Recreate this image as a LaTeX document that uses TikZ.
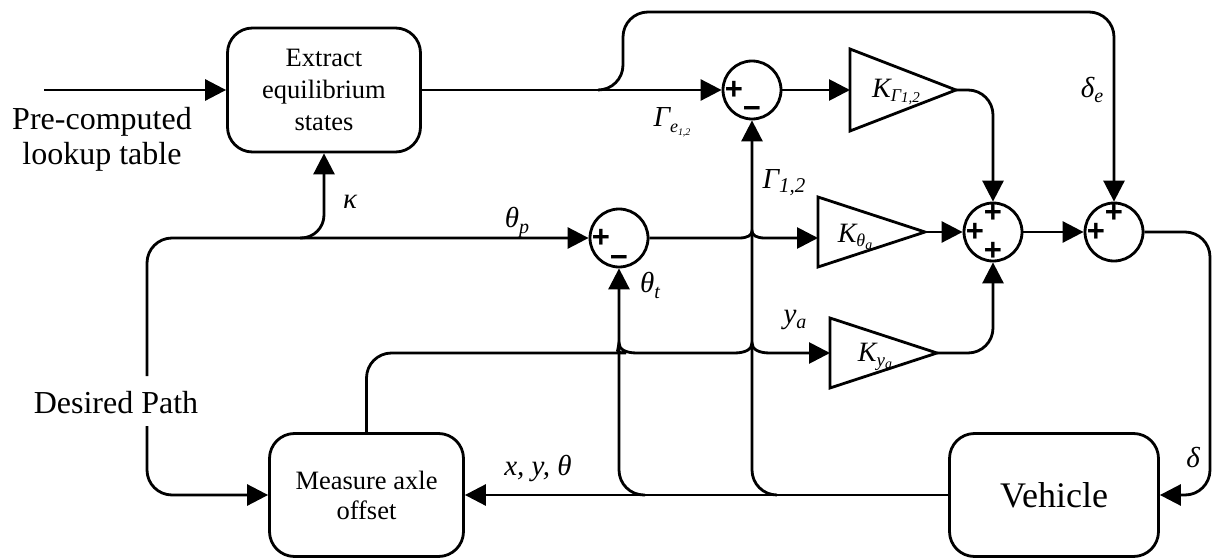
\documentclass[tikz,border=0pt]{standalone}
\usepackage{fontspec}
\setmainfont{Liberation Serif}
\newfontfamily\signfont{Liberation Sans}
\usetikzlibrary{arrows.meta}
\newcommand\mysub[3]{\raisebox{-#2}{\fontsize{#1}{#1}\selectfont\textit{#3}}}
\begin{document}
\begin{tikzpicture}[x=1pt,y=-1pt, line width=2.8pt,
  arr/.style={-{Triangle[length=21pt,width=21pt]}},
  box/.style={draw, rounded corners=25pt, align=center, inner sep=0pt},
  sumc/.style={draw, circle, minimum size=58pt, inner sep=0pt},
  sgn/.style={font=\signfont\bfseries\fontsize{31}{31}\selectfont, inner sep=0pt},
  lab/.style={font=\fontsize{29}{29}\selectfont\itshape, inner sep=0pt},
  klab/.style={font=\fontsize{28}{28}\selectfont\itshape, inner sep=0pt},
  big/.style={font=\fontsize{32}{35}\selectfont, align=center, inner sep=0pt},
  tri/.style={line join=miter}]
\useasboundingbox (0,0) rectangle (1213,559);

% blocks
\node[box, minimum width=193pt, minimum height=124pt, font=\fontsize{26.5}{32}\selectfont] (ext) at (324,90) {Extract\\equilibrium\\states};
\node[box, minimum width=194pt, minimum height=123pt, font=\fontsize{26.5}{30}\selectfont] (meas) at (366.5,495) {Measure axle\\offset};
\node[box, minimum width=209pt, minimum height=123pt, font=\fontsize{36}{40}\selectfont] (veh) at (1054,495) {Vehicle};

% summing junctions
\node[sumc] (gsum) at (752,90) {};
\node[sumc] (tsum) at (619,238) {};
\node[sumc] (msum) at (993,232) {};
\node[sumc] (fsum) at (1114,232) {};

\node[sgn] (gp) at (734,90) {+};
\node[sgn] (gm) at (752,112) {−};
\node[sgn] (tp) at (601,238) {+};
\node[sgn] (tm) at (619,261) {−};
\node[sgn] (mp1) at (993,213) {+};
\node[sgn] (mp2) at (975,232) {+};
\node[sgn] (mp3) at (993,251) {+};
\node[sgn] (fp1) at (1114,213) {+};
\node[sgn] (fp2) at (1096,232) {+};

% gains
\draw[tri] (850,49) -- (956,90) -- (850,131) -- cycle;
\draw[tri] (818,197) -- (925,232) -- (818,267) -- cycle;
\draw[tri] (830,318) -- (937,353) -- (830,388) -- cycle;
\coordinate (kg-in) at (850,90);  \coordinate (kg-out) at (956,90);
\coordinate (kt-in) at (818,238); \coordinate (kt-out) at (925,232);
\coordinate (ky-in) at (830,353); \coordinate (ky-out) at (937,353);
\node[klab] (kgl) at (896,92) {K\mysub{18}{4pt}{Γ}\mysub{15}{5pt}{1,2}};
\node[klab] (ktl) at (855,237) {K\mysub{18}{4pt}{θ}\mysub{14}{7pt}{a}};
\node[klab] (kyl) at (875,357) {K\mysub{19}{5pt}{y}\mysub{14}{7pt}{a}};

% outer labels
\node[big] (pcl) at (102,139) {Pre-computed\\lookup table};
\node[big] (dpl) at (116,403) {Desired Path};

% signal labels
\node[lab] (lk) at (350,202) {κ};
\node[lab] (lthp) at (517,222) {θ\mysub{20}{6pt}{p}};
\node[lab] (lge) at (672,122) {Γ\mysub{18}{6pt}{e}\mysub{10}{9pt}{1,2}};
\node[lab] (lg) at (784,183) {Γ\mysub{21}{4pt}{1,2}};
\node[lab] (ltht) at (650,285) {θ\mysub{20}{6pt}{t}};
\node[lab] (lya) at (795,320) {y\mysub{20}{5pt}{a}};
\node[lab] (lxyt) at (538,468) {x, y, θ};
\node[lab] (lde) at (1092,90) {δ\mysub{20}{5pt}{e}};
\node[lab] (ld) at (1193,458) {δ};

% coordinates for branch points / free ends
\coordinate (pin) at (44,90);
\coordinate (b1) at (598,90);
\coordinate (b2) at (300,238);
\coordinate (b3) at (645,495);
\coordinate (b4) at (777,495);
\coordinate (dpt) at (147,376);
\coordinate (dpb) at (147,426);

% connectors
\draw[arr] (pin) -- (ext.west);
\draw[arr] (ext.east) -- (gsum.west);
\draw[arr, rounded corners=25pt] (b1) -- (623,90) -- (623,12) -| (fsum.north);
\draw[arr] (gsum.east) -- (kg-in);
\draw[arr, rounded corners=25pt] (kg-out) -| (msum.north);
\draw[arr] (kt-out) -- (msum.west);
\draw[arr, rounded corners=25pt] (ky-out) -| (msum.south);
\draw[arr] (msum.east) -- (fsum.west);
\draw[arr, rounded corners=25pt] (fsum.east) -- (1210,232) |- (veh.east);
\draw[arr] (veh.west) -- (meas.east);
\draw[arr, rounded corners=25pt] (b3) -| (tsum.south);
\draw[arr, rounded corners=25pt] (b4) -| (gsum.south);
\draw[arr] (tsum.east) -- (739,238) .. controls (748,238) and (752,235) .. (752,231)
  .. controls (752,235) and (756,238) .. (765,238) -- (kt-in);
\draw[arr, rounded corners=25pt] (meas.north) |- (601,353) [sharp corners]
  .. controls (613,353) and (619,349) .. (619,343)
  .. controls (619,349) and (625,353) .. (637,353) -- (734,353)
  .. controls (746,353) and (752,349) .. (752,343)
  .. controls (752,349) and (758,353) .. (770,353) -- (ky-in);
\draw[arr, rounded corners=25pt] (dpt) |- (tsum.west);
\draw[arr, rounded corners=25pt] (dpb) |- (meas.west);
\draw[arr, rounded corners=23pt] (b2) -| (ext.south);
\end{tikzpicture}
\end{document}
